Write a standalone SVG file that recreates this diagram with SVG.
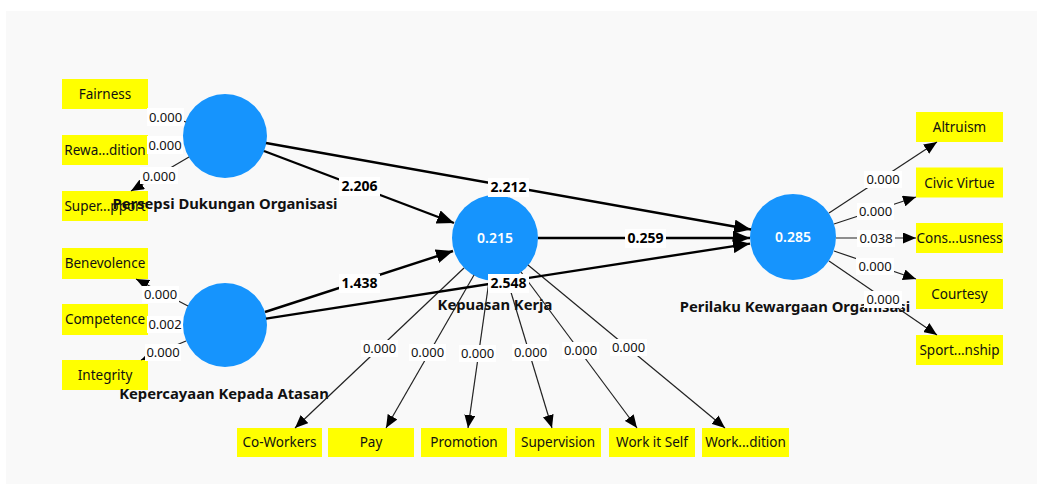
<svg xmlns="http://www.w3.org/2000/svg" width="1037" height="484" viewBox="0 0 1037 484">
<defs>
<marker id="ao" markerUnits="userSpaceOnUse" markerWidth="13" markerHeight="11" refX="13" refY="5.5" orient="auto"><path d="M0,0 L13,5.5 L0,11 z" fill="#000"/></marker>
<marker id="ai" markerUnits="userSpaceOnUse" markerWidth="17" markerHeight="14" refX="17" refY="7" orient="auto"><path d="M0,0 L17,7 L0,14 z" fill="#000"/></marker>
</defs>
<style>
.ind rect{fill:#ffff00}
.ind text{font-family:"Noto Sans","Open Sans",sans-serif;font-size:13.5px;fill:#111;text-anchor:middle}
.lv circle{fill:#1694fd}
.lv .nm{font-family:"Noto Sans","Open Sans",sans-serif;font-size:14.8px;font-weight:bold;fill:#111;text-anchor:middle}
.lv .val{font-family:"Noto Sans","Open Sans",sans-serif;font-size:14px;font-weight:600;fill:#fff;text-anchor:middle}
.o{stroke:#222;stroke-width:1.2;fill:none;marker-end:url(#ao)}
.i{stroke:#000;stroke-width:2.4;fill:none;marker-end:url(#ai)}
.lb rect{fill:#fff}
.lb text{font-family:"Noto Sans","Open Sans",sans-serif;font-size:13px;fill:#111;text-anchor:middle}
.cb rect{fill:#fff}
.cb text{font-family:"Noto Sans","Open Sans",sans-serif;font-size:14px;font-weight:bold;fill:#000;text-anchor:middle}
</style>
<rect x="0" y="0" width="1037" height="484" fill="#fff"/>
<rect x="6" y="11" width="1031" height="473" fill="#f9f9f9"/>

<g id="ind-fairness" class="ind"><rect x="62" y="79" width="86" height="30"/><text x="105" y="99">Fairness</text></g>
<g id="ind-rewa" class="ind"><rect x="62" y="135" width="86" height="30"/><text x="105" y="155">Rewa...dition</text></g>
<g id="ind-super" class="ind"><rect x="62" y="191" width="86" height="30"/><text x="105" y="211">Super...pport</text></g>
<g id="ind-benevolence" class="ind"><rect x="62" y="248" width="86" height="31"/><text x="105" y="268">Benevolence</text></g>
<g id="ind-competence" class="ind"><rect x="62" y="304" width="86" height="31"/><text x="105" y="324">Competence</text></g>
<g id="ind-integrity" class="ind"><rect x="62" y="360" width="86" height="30"/><text x="105" y="380">Integrity</text></g>

<g id="ind-altruism" class="ind"><rect x="916" y="112" width="87" height="30"/><text x="959.5" y="132">Altruism</text></g>
<g id="ind-civic" class="ind"><rect x="916" y="167.5" width="87" height="30"/><text x="959.5" y="187.5">Civic Virtue</text></g>
<g id="ind-cons" class="ind"><rect x="916" y="223" width="87" height="30"/><text x="959.5" y="243">Cons...usness</text></g>
<g id="ind-courtesy" class="ind"><rect x="916" y="279" width="87" height="30"/><text x="959.5" y="299">Courtesy</text></g>
<g id="ind-sport" class="ind"><rect x="916" y="335" width="87" height="30"/><text x="959.5" y="355">Sport...nship</text></g>

<g id="ind-coworkers" class="ind"><rect x="237" y="428" width="85" height="29"/><text x="279.5" y="447">Co-Workers</text></g>
<g id="ind-pay" class="ind"><rect x="328" y="428" width="86" height="29"/><text x="371" y="447">Pay</text></g>
<g id="ind-promotion" class="ind"><rect x="421" y="428" width="86" height="29"/><text x="464" y="447">Promotion</text></g>
<g id="ind-supervision" class="ind"><rect x="515" y="428" width="86" height="29"/><text x="558" y="447">Supervision</text></g>
<g id="ind-workself" class="ind"><rect x="609" y="428" width="86" height="29"/><text x="652" y="447">Work it Self</text></g>
<g id="ind-workcond" class="ind"><rect x="702" y="428" width="87" height="29"/><text x="745.5" y="447">Work...dition</text></g>

<g id="lv-persepsi" class="lv"><circle cx="225" cy="136" r="42"/><text class="nm" x="225" y="209">Persepsi Dukungan Organisasi</text></g>
<g id="lv-kepercayaan" class="lv"><circle cx="225" cy="325" r="42"/><text class="nm" x="224" y="399">Kepercayaan Kepada Atasan</text></g>
<g id="lv-kepuasan" class="lv"><circle cx="495" cy="238" r="43"/><text class="val" x="495" y="243">0.215</text><text class="nm" x="495" y="310">Kepuasan Kerja</text></g>
<g id="lv-perilaku" class="lv"><circle cx="793" cy="237" r="43"/><text class="val" x="793" y="242">0.285</text><text class="nm" x="795" y="312">Perilaku Kewargaan Organisasi</text></g>

<g id="connectors">
<line class="o" x1="186" y1="122" x2="148" y2="109"/>
<line class="o" x1="183" y1="141" x2="148" y2="145"/>
<line class="o" x1="189" y1="157" x2="131" y2="191"/>
<line class="o" x1="188" y1="306" x2="136" y2="279"/>
<line class="o" x1="183" y1="323" x2="148" y2="321"/>
<line class="o" x1="186" y1="341" x2="141" y2="360"/>
<line class="o" x1="829" y1="213" x2="937" y2="142"/>
<line class="o" x1="834" y1="224" x2="916" y2="197"/>
<line class="o" x1="836" y1="238" x2="916" y2="238"/>
<line class="o" x1="834" y1="251" x2="916" y2="279"/>
<line class="o" x1="829" y1="261" x2="937" y2="335"/>
<line class="o" x1="464" y1="268" x2="295" y2="428"/>
<line class="o" x1="474" y1="275" x2="386" y2="428"/>
<line class="o" x1="489" y1="281" x2="468" y2="428"/>
<line class="o" x1="507" y1="279" x2="552" y2="428"/>
<line class="o" x1="521" y1="272" x2="637" y2="428"/>
<line class="o" x1="528" y1="265" x2="725" y2="428"/>
<line class="i" x1="264" y1="151" x2="454" y2="223"/>
<line class="i" x1="266" y1="143" x2="751" y2="229.5"/>
<line class="i" x1="265" y1="312" x2="453" y2="251"/>
<line class="i" x1="266" y1="318.6" x2="750" y2="243.6"/>
<line class="i" x1="538" y1="238" x2="750" y2="238"/>

<g class="lb"><rect x="147" y="108" width="37" height="18"/><text x="165.5" y="122">0.000</text></g>
<g class="lb"><rect x="147" y="136" width="36" height="18"/><text x="165" y="150">0.000</text></g>
<g class="lb"><rect x="140" y="167" width="38" height="17"/><text x="159" y="181">0.000</text></g>
<g class="lb"><rect x="142" y="286" width="37" height="17"/><text x="160.5" y="299">0.000</text></g>
<g class="lb"><rect x="147" y="316" width="36" height="17"/><text x="165" y="329">0.002</text></g>
<g class="lb"><rect x="145" y="344" width="36" height="17"/><text x="163" y="357">0.000</text></g>
<g class="lb"><rect x="864" y="171" width="38" height="17"/><text x="883" y="184">0.000</text></g>
<g class="lb"><rect x="857" y="203" width="37" height="17"/><text x="875.5" y="216">0.000</text></g>
<g class="lb"><rect x="857" y="230" width="38" height="17"/><text x="876" y="243">0.038</text></g>
<g class="lb"><rect x="856" y="258" width="38" height="17"/><text x="875" y="271">0.000</text></g>
<g class="lb"><rect x="864" y="291" width="38" height="17"/><text x="883" y="304">0.000</text></g>
<g class="lb"><rect x="361" y="340" width="37" height="17"/><text x="379.5" y="353">0.000</text></g>
<g class="lb"><rect x="409" y="344" width="37" height="17"/><text x="427.5" y="357">0.000</text></g>
<g class="lb"><rect x="459" y="345" width="37" height="17"/><text x="477.5" y="358">0.000</text></g>
<g class="lb"><rect x="512" y="344" width="37" height="17"/><text x="530.5" y="357">0.000</text></g>
<g class="lb"><rect x="562" y="342" width="37" height="17"/><text x="580.5" y="355">0.000</text></g>
<g class="lb"><rect x="610" y="339" width="37" height="17"/><text x="628.5" y="352">0.000</text></g>
<g class="cb"><rect x="339" y="177" width="41" height="19"/><text x="359.5" y="191">2.206</text></g>
<g class="cb"><rect x="488" y="178" width="41" height="19"/><text x="508.5" y="192">2.212</text></g>
<g class="cb"><rect x="339" y="274" width="41" height="19"/><text x="359.5" y="288">1.438</text></g>
<g class="cb"><rect x="488" y="274" width="41" height="19"/><text x="508.5" y="288">2.548</text></g>
<g class="cb"><rect x="625" y="229" width="41" height="19"/><text x="645.5" y="243">0.259</text></g>
</g>
</svg>
